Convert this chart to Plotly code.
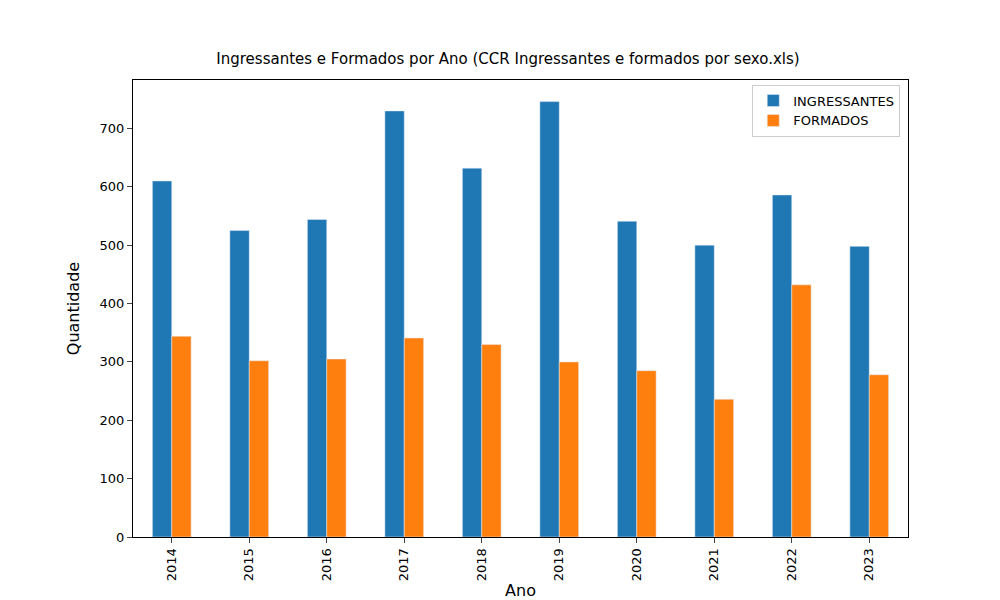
import plotly.graph_objects as go

anos = ["2014", "2015", "2016", "2017", "2018", "2019", "2020", "2021", "2022", "2023"]
ingressantes = [610, 525, 544, 730, 632, 746, 541, 500, 586, 498]
formados = [344, 302, 305, 341, 330, 300, 285, 236, 432, 278]

fig = go.Figure()
fig.add_trace(go.Bar(x=anos, y=ingressantes, name="INGRESSANTES", marker_color="#1f77b4"))
fig.add_trace(go.Bar(x=anos, y=formados, name="FORMADOS", marker_color="#ff7f0e"))

fig.update_layout(
    width=1000, height=600,
    margin=dict(l=125, r=100, t=72, b=66),
    plot_bgcolor="white", paper_bgcolor="white",
    font=dict(family="DejaVu Sans", size=13, color="black"),
    title=dict(text="Ingressantes e Formados por Ano (CCR Ingressantes e formados por sexo.xls)",
               x=0.5, xanchor="center", y=0.915, yanchor="middle", font=dict(size=15)),
    barmode="group", bargap=0.5, bargroupgap=0,
    legend=dict(x=0.99, y=0.99, xanchor="right", yanchor="top",
                bordercolor="#cccccc", borderwidth=1, bgcolor="white"),
    showlegend=True,
)
fig.update_xaxes(title_text="Ano", tickangle=-90, showline=True, linecolor="black", mirror=True,
                 ticks="outside", title_standoff=4)
fig.update_yaxes(title_text="Quantidade", range=[0, 783], dtick=100, showgrid=False,
                 showline=True, linecolor="black", mirror=True, ticks="outside", zeroline=False)

fig.write_html("out.html")
